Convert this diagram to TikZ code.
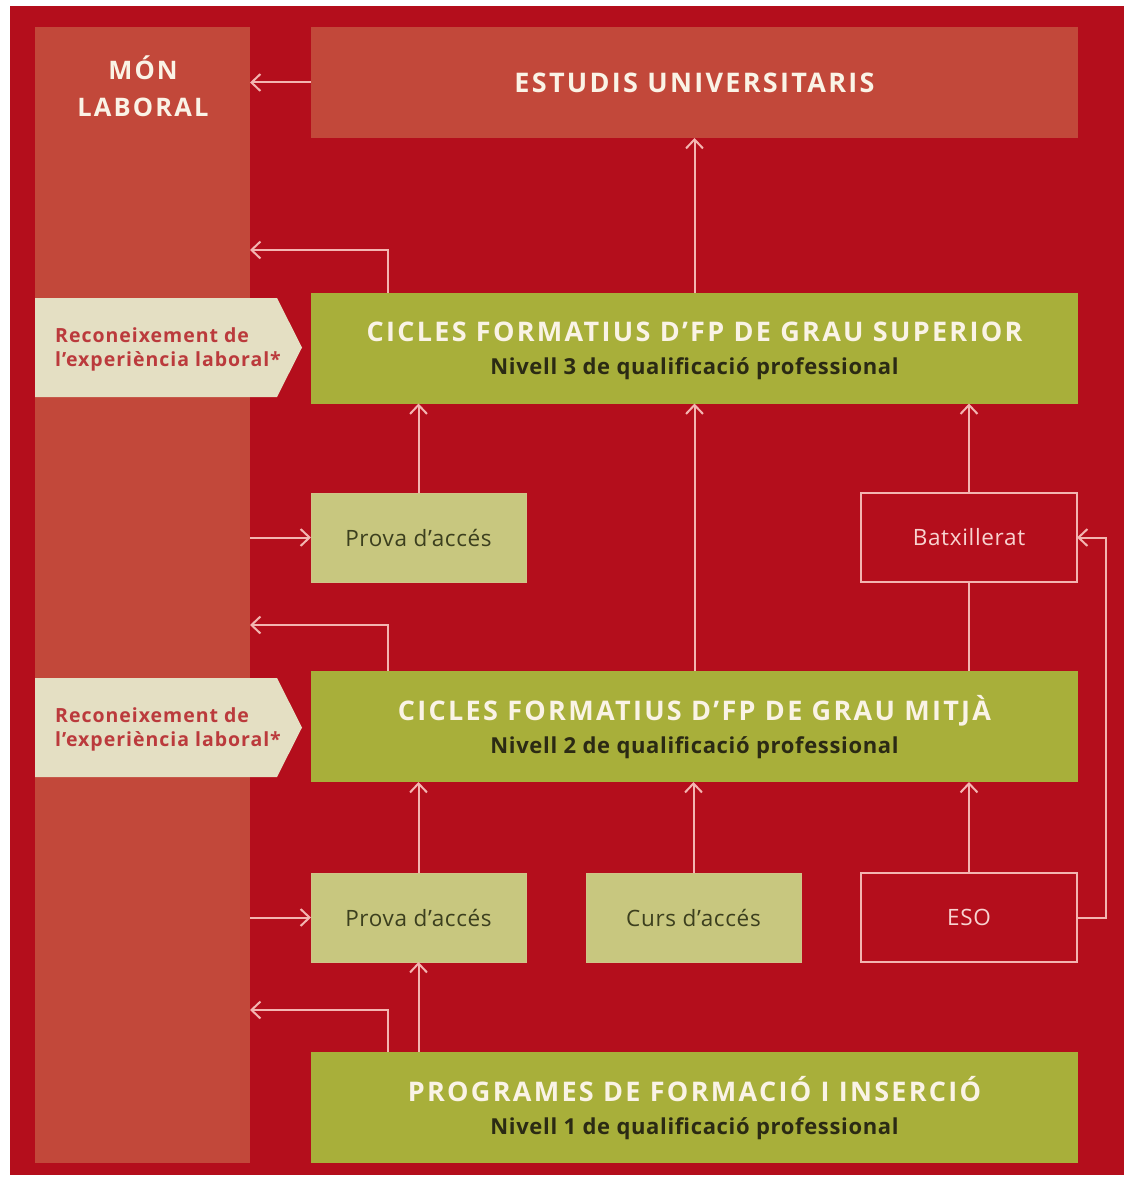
\documentclass[tikz,border=0pt]{standalone}
\usepackage{fontspec}
\setmainfont{Open Sans}
\newfontfamily\ttlfont{Open Sans}[LetterSpace=8.5]
\newfontfamily\subfont{Open Sans}[LetterSpace=3]
\newfontfamily\recfont{Open Sans}[LetterSpace=5]
\newfontfamily\boxfont{Open Sans}[LetterSpace=3]
\usetikzlibrary{arrows.meta,calc}
\definecolor{bgred}{HTML}{B40E1C}
\definecolor{panel}{HTML}{C2483A}
\definecolor{olive}{HTML}{A8AF3A}
\definecolor{lightolive}{HTML}{C8C77F}
\definecolor{cream}{HTML}{E4DFC3}
\definecolor{pinkline}{HTML}{F3B5B1}
\definecolor{titlewhite}{HTML}{FAF3E6}
\definecolor{subdark}{HTML}{2B2A14}
\definecolor{provatext}{HTML}{3C3F1E}
\definecolor{rectext}{HTML}{BB3A3C}
\tikzset{
  box/.style={rectangle, inner sep=0pt, outer sep=0pt},
  panelbox/.style={box, fill=panel},
  bigbox/.style={box, fill=olive, minimum width=767pt, minimum height=111pt},
  smallbox/.style={box, fill=lightolive, draw=lightolive!80!pinkline, line width=0.6pt, minimum width=215pt, minimum height=89pt, text=provatext, font=\boxfont\fontsize{22.5}{26}\selectfont},
  outbox/.style={box, draw=pinkline, line width=2pt, minimum width=216pt, minimum height=89pt, text=pinkline!60!white, font=\boxfont\fontsize{22.5}{26}\selectfont},
  conn/.style={draw=pinkline, line width=2pt},
  arr/.style={conn, -{Straight Barb[length=9pt,width=17pt,line width=2pt]}},
  ttl/.style={font=\ttlfont\bfseries\fontsize{27}{30}\selectfont, text=titlewhite},
  ttlb/.style={ttl, anchor=base, inner sep=0pt},
  sub/.style={font=\subfont\bfseries\fontsize{22}{26}\selectfont, text=subdark, anchor=base, inner sep=0pt},
  rec/.style={anchor=west, align=left, inner sep=0pt, font=\recfont\bfseries\fontsize{19.5}{23.5}\selectfont, text=rectext},
}
\begin{document}
\begin{tikzpicture}[x=1pt,y=-1pt]
\useasboundingbox (0,0) rectangle (1124,1177);
\fill[white] (0,0) rectangle (1124,1177);
\fill[bgred] (10,6) rectangle (1124,1175);

% left column
\node[panelbox, minimum width=215pt, minimum height=1136pt] (mon) at (142.5,595) {};
\node[align=center, inner sep=0pt, font=\ttlfont\bfseries\fontsize{25.5}{37}\selectfont, text=titlewhite] (monlabel) at (143,86) {MÓN\\LABORAL};

% recognition arrows
\fill[cream] (35,298) -- (277,298) -- (302,347.5) -- (277,397) -- (35,397) -- cycle;
\node[rec] (rec1) at (55,349.5) {Reconeixement de\\l’experiència laboral*};
\fill[cream] (35,678) -- (277,678) -- (302,727.5) -- (277,777) -- (35,777) -- cycle;
\node[rec] (rec2) at (55,729.5) {Reconeixement de\\l’experiència laboral*};

% boxes
\node[panelbox, minimum width=767pt, minimum height=111pt, ttl] (eu) at (694.5,82.5) {ESTUDIS UNIVERSITARIS};
\node[bigbox] (gs) at (694.5,348) {};
\node[ttlb] (gst) at ($(gs.center)+(0,-6.5)$) {CICLES FORMATIUS D’FP DE GRAU SUPERIOR};
\node[sub] (gss) at ($(gs.center)+(0,26.5)$) {Nivell 3 de qualificació professional};
\node[smallbox] (prova1) at (418.5,537.5) {Prova d’accés};
\node[outbox] (batx) at (969,537.5) {Batxillerat};
\node[bigbox] (gm) at (694.5,726.5) {};
\node[ttlb] (gmt) at ($(gm.center)+(0,-6.5)$) {CICLES FORMATIUS D’FP DE GRAU MITJÀ};
\node[sub] (gms) at ($(gm.center)+(0,26.5)$) {Nivell 2 de qualificació professional};
\node[smallbox] (prova2) at (418.5,917.5) {Prova d’accés};
\node[smallbox] (curs) at (693.5,917.5) {Curs d’accés};
\node[outbox] (eso) at (969,917.5) {ESO};
\node[bigbox] (pfi) at (694.5,1107.5) {};
\node[ttlb] (pfit) at ($(pfi.center)+(0,-6.5)$) {PROGRAMES DE FORMACIÓ I INSERCIÓ};
\node[sub] (pfis) at ($(pfi.center)+(0,26.5)$) {Nivell 1 de qualificació professional};

% helper coordinates
\coordinate (k1) at (388,250);
\coordinate (k2) at (388,625);
\coordinate (k3) at (388,1010);
\coordinate (kr) at (1106,700);

% connectors
\draw[arr] (eu.west) -- (eu.west -| mon.east);
\draw[arr] (gs.north -| k1) |- (mon.east |- k1);
\draw[arr] (gs.north) -- (eu.south);
\draw[arr] (mon.east |- prova1.west) -- (prova1.west);
\draw[arr] (prova1.north) -- (prova1.north |- gs.south);
\draw[arr] (gm.north) -- (gs.south);
\draw[arr] (batx.north) -- (batx.north |- gs.south);
\draw[conn] (batx.south) -- (batx.south |- gm.north);
\draw[arr] (gm.north -| k2) |- (mon.east |- k2);
\draw[arr] (mon.east |- prova2.west) -- (prova2.west);
\draw[arr] (prova2.north) -- (prova2.north |- gm.south);
\draw[arr] (curs.north) -- (curs.north |- gm.south);
\draw[arr] (eso.north) -- (eso.north |- gm.south);
\draw[arr] (eso.east) -| (kr) |- (batx.east);
\draw[arr] (pfi.north -| prova2) -- (prova2.south);
\draw[arr] (pfi.north -| k3) |- (mon.east |- k3);
\end{tikzpicture}
\end{document}
